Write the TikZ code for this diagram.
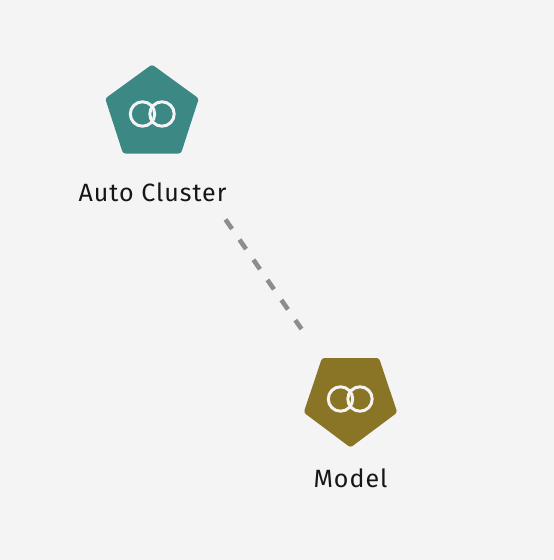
\documentclass[tikz,border=0pt]{standalone}
\usepackage{fontspec}
\setmainfont[LetterSpace=4]{Fira Sans}
\definecolor{bgc}{HTML}{F4F4F4}
\definecolor{tealc}{HTML}{3C8884}
\definecolor{olivec}{HTML}{8A7426}
\definecolor{linkc}{HTML}{8D8D8D}
\definecolor{textc}{HTML}{161616}
\tikzset{
  pent/.style={rounded corners=2.5pt},
  ring/.style={draw=bgc,line width=3pt},
  lab/.style={text=textc,font=\fontsize{25}{28}\selectfont,inner sep=0pt,anchor=base},
  link/.style={draw=linkc,line width=4.6pt,dash pattern=on 11.5pt off 13pt}
}
\begin{document}
\begin{tikzpicture}[x=1pt,y=-1pt]
\useasboundingbox (0,0) rectangle (554,560);
\fill[bgc] (0,0) rectangle (554,560);
\coordinate (a) at (225.5,219.5);
\coordinate (b) at (301.5,329);
\draw[link] (a) -- (b);
\fill[tealc,pent] (152,64.5) -- (198.8,98.5) -- (181,153.5) -- (123,153.5) -- (105.2,98.5) -- cycle;
\draw[ring] (142.5,114) circle (12.2);
\draw[ring] (162,114) circle (12.2);
\node[lab] (auto) at (152.5,201) {Auto Cluster};
\fill[olivec,pent] (350.5,447.5) -- (397.3,412.5) -- (379,358) -- (322,358) -- (303.7,412.5) -- cycle;
\draw[ring] (340.5,399) circle (12.2);
\draw[ring] (360,399) circle (12.2);
\node[lab] (model) at (350.5,487) {Model};
\end{tikzpicture}
\end{document}
